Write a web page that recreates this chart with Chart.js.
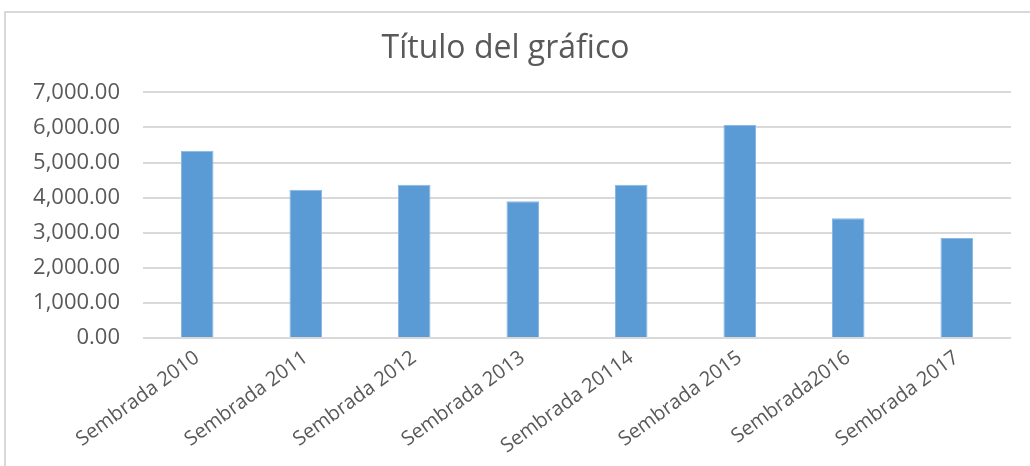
<!DOCTYPE html>
<html>
<head>
<meta charset="utf-8">
<script src="https://cdn.jsdelivr.net/npm/chart.js@4/dist/chart.umd.min.js"></script>
<style>
  html, body { margin: 0; padding: 0; background: #ffffff; }
  .wrap { position: relative; width: 1030px; height: 466px; overflow: hidden; }
  .frame { position: absolute; left: 4px; top: 11px; width: 1060px; height: 480px; border: 2px solid #d9d9d9; box-sizing: border-box; }
  canvas { position: absolute; left: 0; top: 0; }
</style>
</head>
<body>
<div class="wrap">
  <div class="frame"></div>
  <canvas id="sembradaChart" width="1030" height="466"></canvas>
</div>
<script>
const categories = [
  "Sembrada 2010",
  "Sembrada 2011",
  "Sembrada 2012",
  "Sembrada 2013",
  "Sembrada 20114",
  "Sembrada 2015",
  "Sembrada2016",
  "Sembrada 2017",
];
const sembradaValues = [5340, 4225, 4370, 3900, 4370, 6070, 3410, 2850];
const yTicks = [0, 1000, 2000, 3000, 4000, 5000, 6000, 7000];
const chartTitle = "Título del gráfico";

const textColor = "#595959";
const gridColor = "#d9d9d9";

function formatTick(value) {
  return Number(value).toLocaleString("en-US", { minimumFractionDigits: 2, maximumFractionDigits: 2 });
}

const canvas = document.getElementById("sembradaChart");

new Chart(canvas, {
  type: "bar",
  data: {
    labels: categories,
    datasets: [
      {
        label: "Sembrada",
        data: sembradaValues,
        backgroundColor: "#5b9bd5",
        borderColor: "#8cb8e2",
        borderWidth: 1,
        categoryPercentage: 1,
        barPercentage: 0.3,
      },
    ],
  },
  options: {
    responsive: false,
    animation: false,
    layout: {
      padding: { left: 0, right: 19, top: 0, bottom: 0 },
    },
    plugins: {
      legend: { display: false },
      tooltip: { enabled: false },
      title: {
        display: true,
        text: chartTitle,
        color: textColor,
        font: { family: "'Open Sans', sans-serif", size: 32, weight: "normal" },
        padding: { top: 30, bottom: 24 },
      },
    },
    scales: {
      x: {
        grid: { display: false, drawTicks: false },
        border: { display: false },
        ticks: {
          color: textColor,
          font: { family: "'Open Sans', sans-serif", size: 20 },
          minRotation: 36,
          maxRotation: 36,
          autoSkip: false,
          padding: 8,
        },
        afterFit(scale) {
          scale.height = 128;
        },
      },
      y: {
        min: 0,
        max: 7000,
        afterBuildTicks(scale) {
          scale.ticks = yTicks.map(v => ({ value: v }));
        },
        grid: { color: gridColor, lineWidth: 2, drawTicks: false },
        border: { display: false },
        ticks: {
          color: textColor,
          font: { family: "'Open Sans', sans-serif", size: 22 },
          padding: 23,
          callback: value => formatTick(value),
        },
        afterFit(scale) {
          scale.width = 143;
        },
      },
    },
  },
});
</script>
</body>
</html>
